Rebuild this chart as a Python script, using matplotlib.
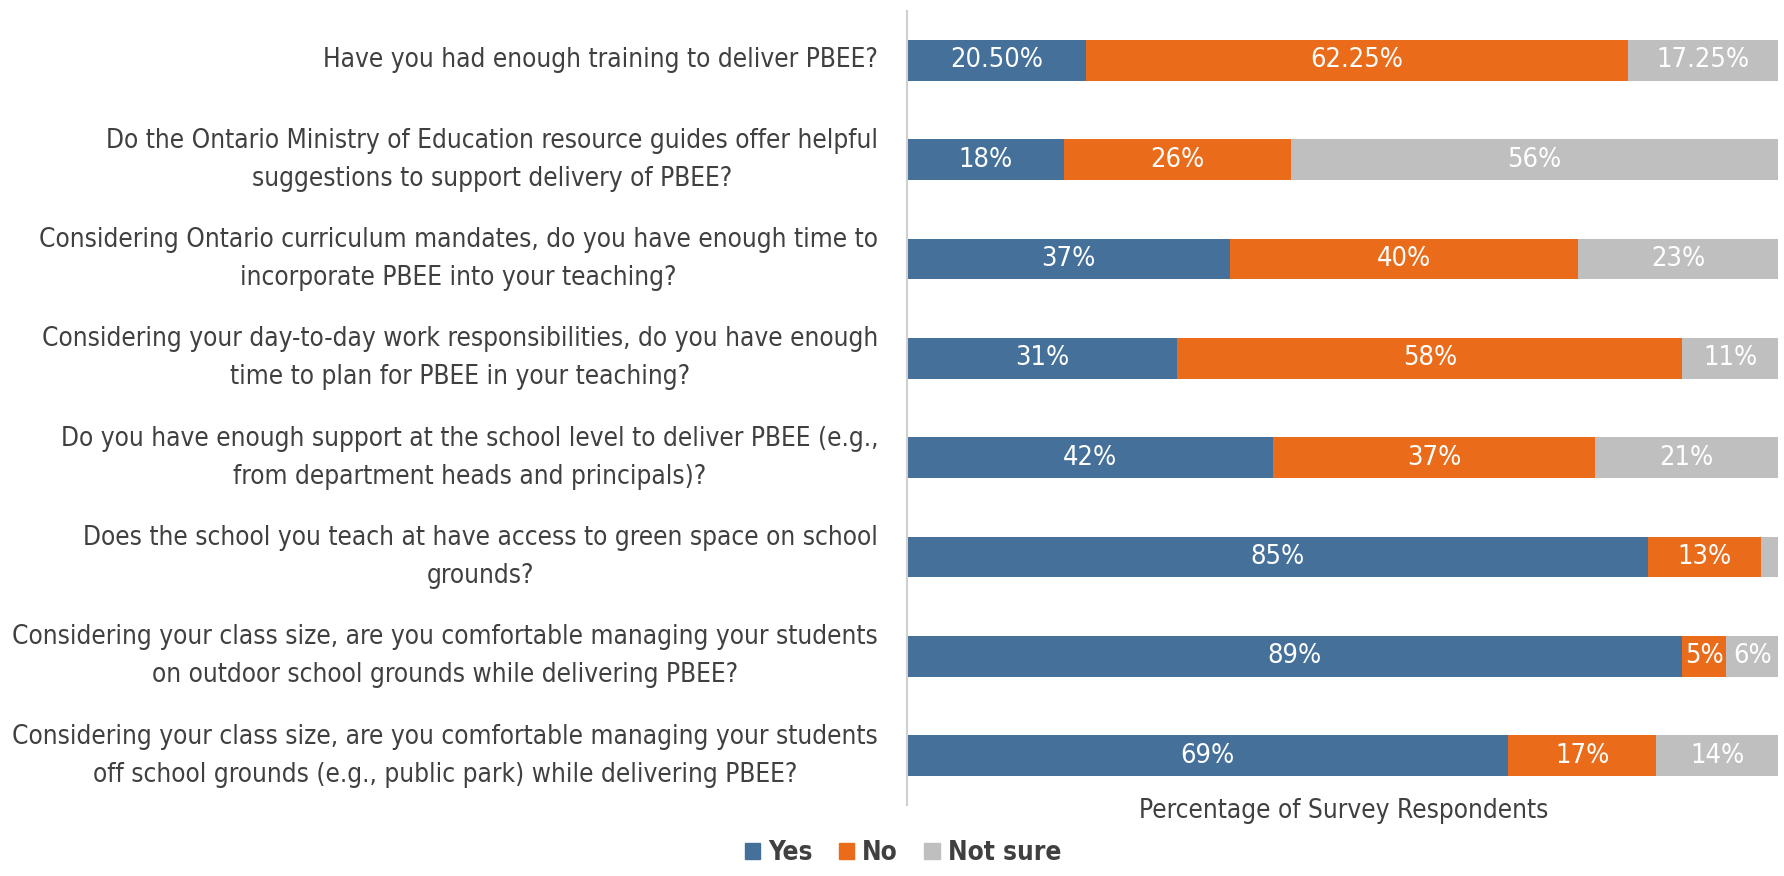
import matplotlib
matplotlib.use("Agg")
import matplotlib.pyplot as plt
from matplotlib.patches import Patch
import numpy as np

plt.rcParams['font.family'] = ['DejaVu Sans']
plt.rcParams['font.stretch'] = 'condensed'

# questions, top to bottom
questions = [
    "Have you had enough training to deliver PBEE?",
    "Do the Ontario Ministry of Education resource guides offer helpful\nsuggestions to support delivery of PBEE?",
    "Considering Ontario curriculum mandates, do you have enough time to\nincorporate PBEE into your teaching?",
    "Considering your day-to-day work responsibilities, do you have enough\ntime to plan for PBEE in your teaching?",
    "Do you have enough support at the school level to deliver PBEE (e.g.,\nfrom department heads and principals)?",
    "Does the school you teach at have access to green space on school\ngrounds?",
    "Considering your class size, are you comfortable managing your students\non outdoor school grounds while delivering PBEE?",
    "Considering your class size, are you comfortable managing your students\noff school grounds (e.g., public park) while delivering PBEE?",
]
yes = [20.50, 18, 37, 31, 42, 85, 89, 69]
no = [62.25, 26, 40, 58, 37, 13, 5, 17]
not_sure = [17.25, 56, 23, 11, 21, 2, 6, 14]

yes_lbl = ["20.50%", "18%", "37%", "31%", "42%", "85%", "89%", "69%"]
no_lbl = ["62.25%", "26%", "40%", "58%", "37%", "13%", "5%", "17%"]
ns_lbl = ["17.25%", "56%", "23%", "11%", "21%", "", "6%", "14%"]

c_yes = "#44709a"
c_no = "#ea6c1a"
c_ns = "#bfbfbf"
txt = "#404040"
fs = 18.8

fig = plt.figure(figsize=(17.84, 8.76), dpi=100)
ax = fig.add_axes([0.5086, 0.0806, 0.4882, 0.9074])

y = np.arange(len(questions))
h = 0.41
left = np.zeros(len(y))
for vals, lbls, col in [(yes, yes_lbl, c_yes), (no, no_lbl, c_no), (not_sure, ns_lbl, c_ns)]:
    bars = ax.barh(y, vals, left=left, height=h, color=col, edgecolor="none")
    ax.bar_label(bars, labels=lbls, label_type="center", color="white", fontsize=19.5)
    left = left + np.array(vals)

ax.set_xlim(0, 100)
ax.set_ylim(len(y) - 0.5, -0.5)
ax.set_yticks(y)
ax.set_yticklabels(questions, fontsize=fs, multialignment="center", color=txt, linespacing=1.6)
for lab in ax.get_yticklabels():
    lab.set_verticalalignment("center")
ax.tick_params(axis="y", length=0, pad=21)
ax.set_xticks([])
for s in ["top", "right", "bottom"]:
    ax.spines[s].set_visible(False)
ax.spines["left"].set_color("#d0d0d0")
ax.spines["left"].set_linewidth(1.5)

fig.text(0.753, 0.074, "Percentage of Survey Respondents", fontsize=fs, color=txt,
         ha="center", va="center")

handles = [Patch(color=c_yes, label="Yes"), Patch(color=c_no, label="No"), Patch(color=c_ns, label="Not sure")]
fig.legend(handles=handles, loc="center", bbox_to_anchor=(0.506, 0.026), ncol=3, frameon=False,
           prop={"size": fs, "weight": "bold"}, handlelength=0.6, handleheight=0.6,
           handletextpad=0.3, columnspacing=1.0, labelcolor=txt)

fig.savefig("out.png", dpi=100)
